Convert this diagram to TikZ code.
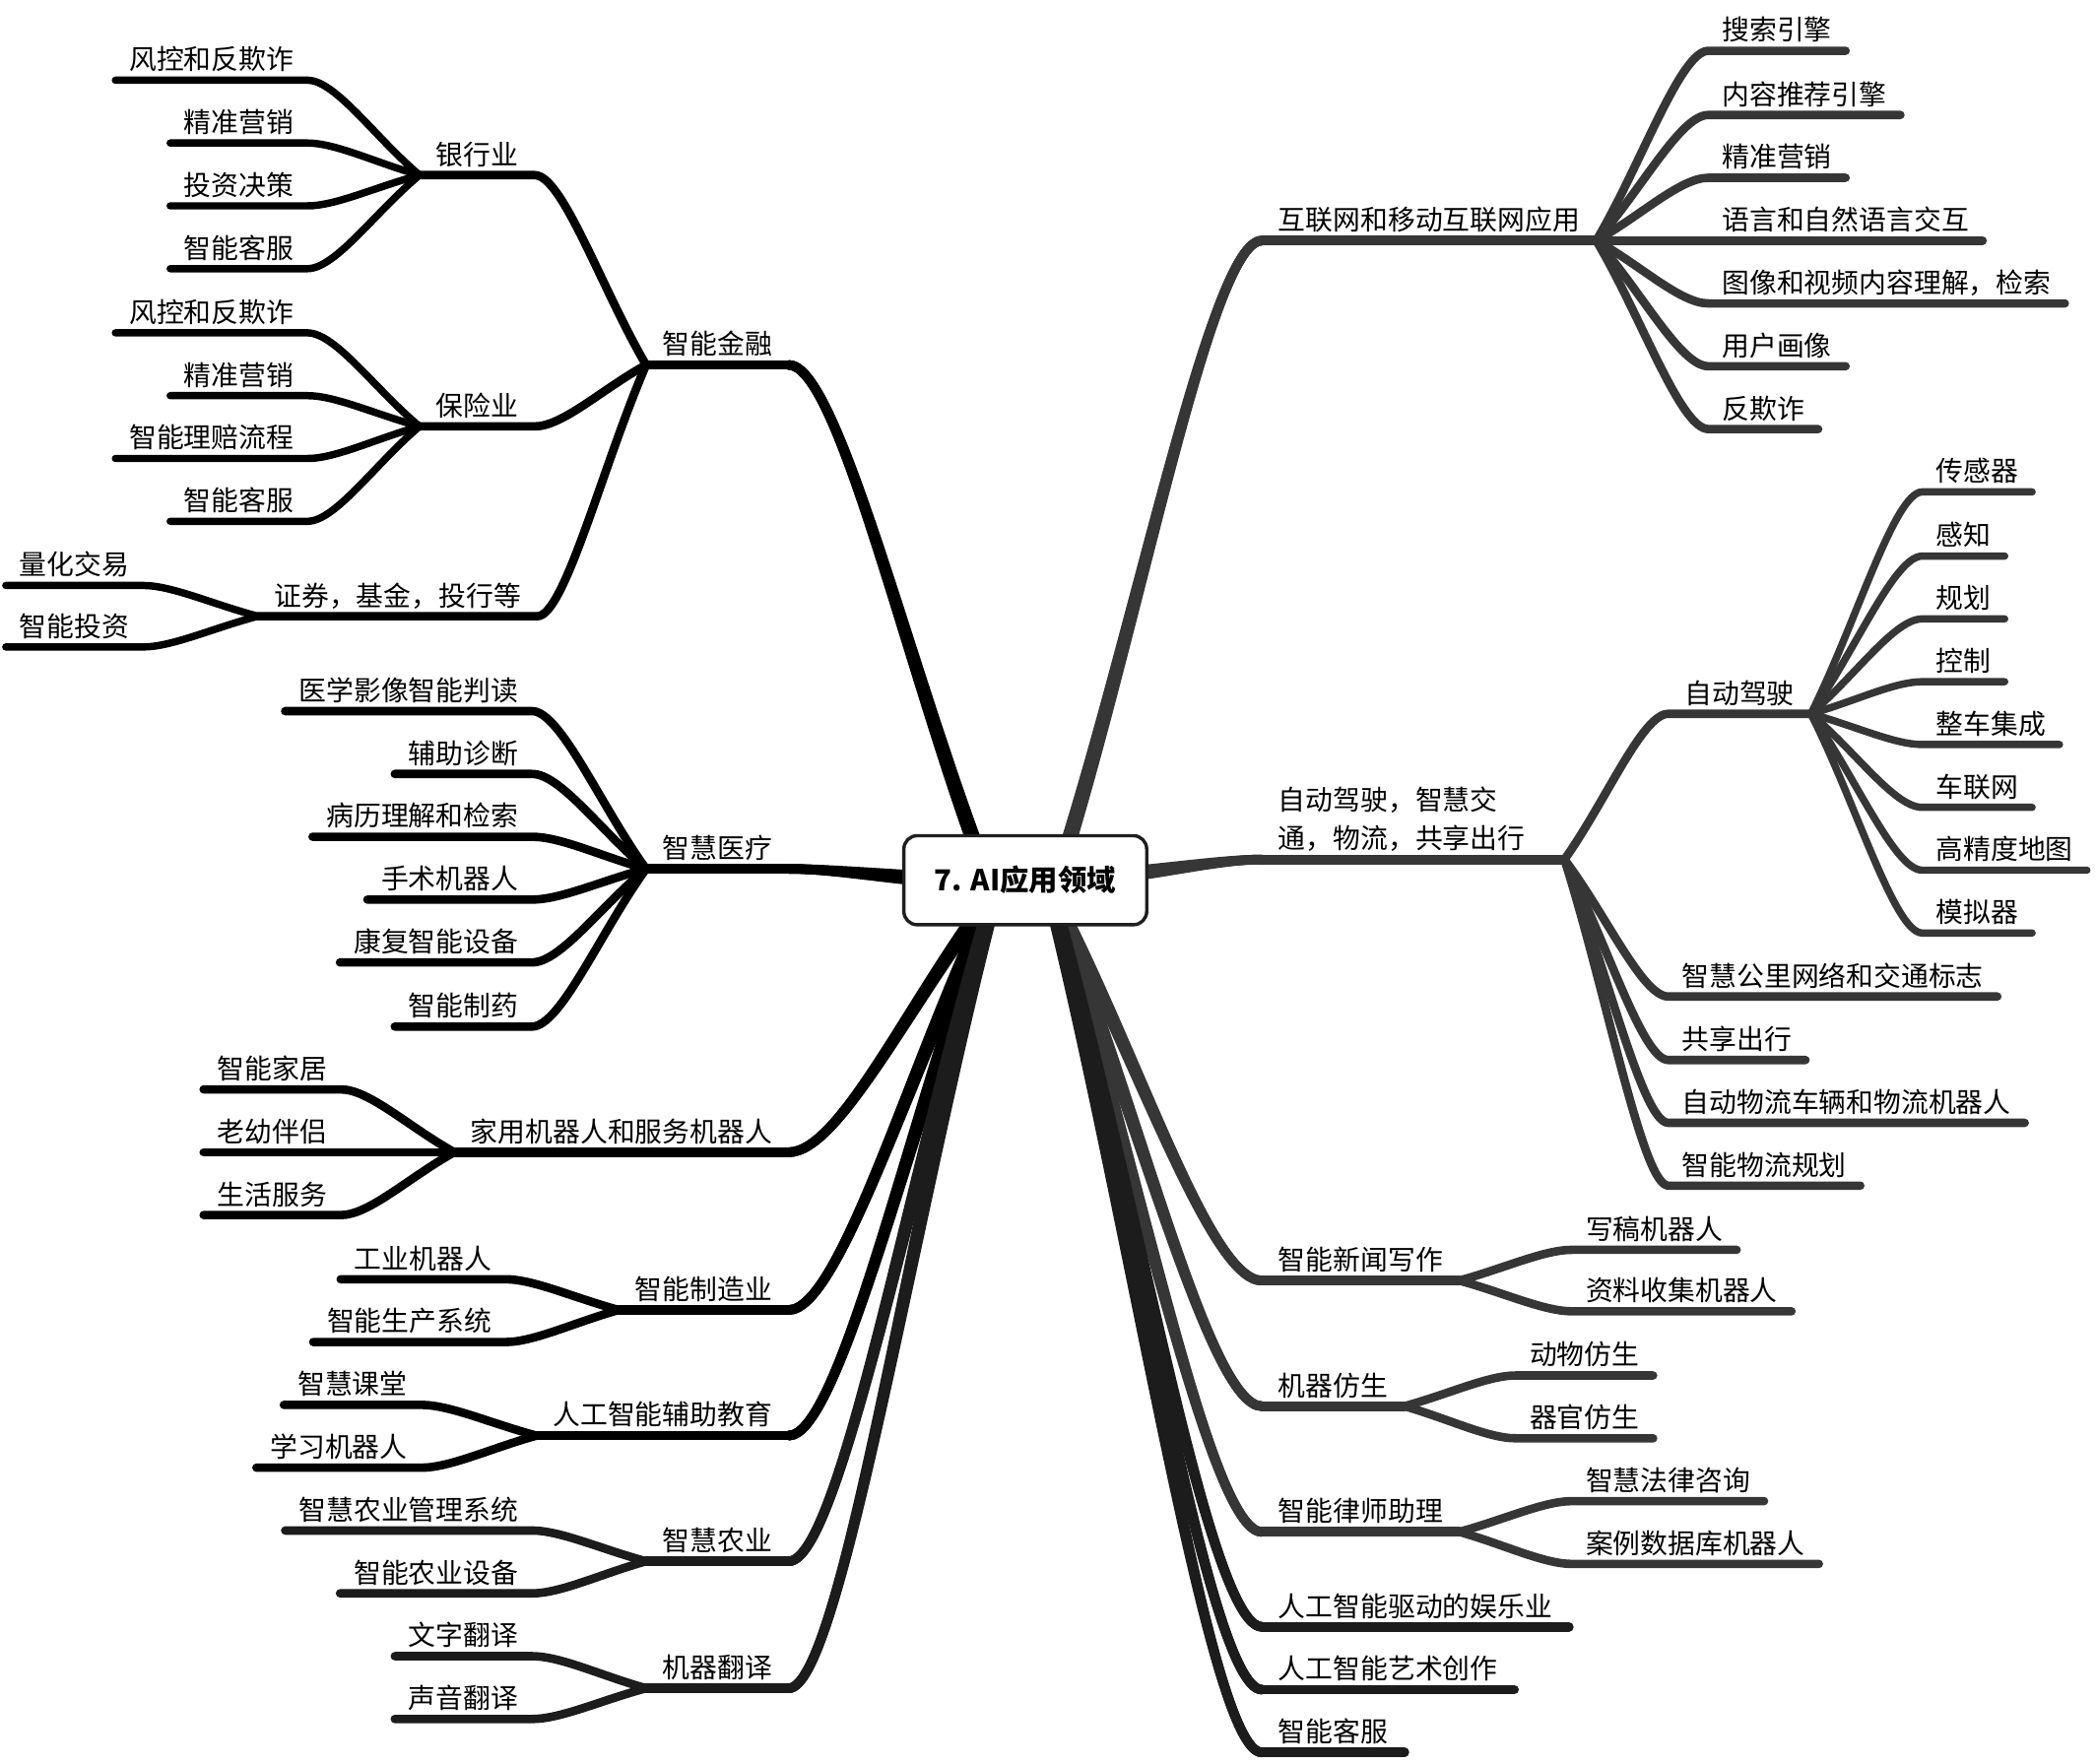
\documentclass[tikz,border=0pt]{standalone}
\usepackage{fontspec}
\setmainfont{Noto Sans CJK SC}
\usetikzlibrary{calc}
\pgfdeclarelayer{bgzero}
\pgfdeclarelayer{lines}
\pgfsetlayers{bgzero,lines,main}
\definecolor{cA}{HTML}{000000}
\definecolor{cB}{HTML}{1C1C1C}
\definecolor{cC}{HTML}{363636}
\tikzset{
  lblbase/.style={font=\fontsize{12.3}{17.4}\selectfont, inner xsep=6pt},
  lbl/.style={lblbase, text depth=0pt, text height=9pt, inner ysep=4.5pt},
  lbln/.style={lbl, inner xsep=7.2pt},
  toR/.style={anchor=south west},
  toL/.style={anchor=south east},
  wleaf/.style={line width=3.3pt, line cap=round, line join=round},
  wmid/.style={line width=3.8pt, line cap=round, line join=round},
  wtop/.style={line width=4.3pt, line cap=round, line join=round},
}
\newcommand\rcon[3]{\draw[#1] let \p1=(#2), \p2=(#3.south west) in (\p1) .. controls ({\x1+0.4*(\x2-\x1)},{\y1+0.4*(\y2-\y1)}) and ({\x2+0.25*(\x1-\x2)},\y2) .. (\p2) -- (#3.south east);}
\newcommand\lcon[3]{\draw[#1] let \p1=(#2), \p2=(#3.south east) in (\p1) .. controls ({\x1+0.4*(\x2-\x1)},{\y1+0.4*(\y2-\y1)}) and ({\x2+0.25*(\x1-\x2)},\y2) .. (\p2) -- (#3.south west);}
\newcommand\mainb[4]{\foreach \tp in {-1,0,1}{\draw[#1] let \p1=(#2), \p2=(#3), \p3=(#4) in ({\x1+(\tp)*\x3},{\y1+(\tp)*\y3}) .. controls ({\x1+(\tp)*\x3+0.4*(\x2-\x1-(\tp)*\x3)},{\y1+(\tp)*\y3+0.4*(\y2-\y1-(\tp)*\y3)}) and ({\x2+0.25*(\x1-\x2)},\y2) .. (\p2);}}
\begin{document}
\begin{tikzpicture}[x=0.6pt,y=-0.6pt]
\useasboundingbox (0,0) rectangle (1568,1319);
\begin{pgfonlayer}{bgzero}\fill[white] (0,0) rectangle (1568,1319);\end{pgfonlayer}

% ---------- centre ----------
\node[draw=black!88, line width=1.5pt, rounded corners=6pt, fill=white, minimum width=109pt, minimum height=40pt, inner sep=0pt, font=\bfseries\fontsize{13}{15}\selectfont] (c) at (767,658.5) {7. AI应用领域};
\coordinate (sFin) at (740,660);
\coordinate (sInet) at (790,660);
\coordinate (sMed) at (700,658);
\coordinate (sAuto) at (835,655);
\coordinate (sLL) at (745,665);
\coordinate (sLR) at (785,665);

% ---------- left level 1 ----------
\node[lbln,toL] (fin) at (590,273) {智能金融};
\node[lbln,toL] (med) at (590,650) {智慧医疗};
\node[lbln,toL] (home) at (590,862) {家用机器人和服务机器人};
\node[lbln,toL] (mfg) at (590,980) {智能制造业};
\node[lbln,toL] (edu) at (590,1074) {人工智能辅助教育};
\node[lbln,toL] (agr) at (590,1168) {智慧农业};
\node[lbln,toL] (mt) at (590,1263) {机器翻译};
% left level 2
\node[lbln,toL] (bank) at (400,131) {银行业};
\node[lbln,toL] (ins) at (400,319) {保险业};
\node[lbln,toL] (sec) at (402,461) {证券，基金，投行等};
% leaves
\node[lbl,toL] (b1) at (230,60) {风控和反欺诈};
\node[lbl,toL] (b2) at (230,107) {精准营销};
\node[lbl,toL] (b3) at (230,154) {投资决策};
\node[lbl,toL] (b4) at (230,201) {智能客服};
\node[lbl,toL] (i1) at (230,249) {风控和反欺诈};
\node[lbl,toL] (i2) at (230,296) {精准营销};
\node[lbl,toL] (i3) at (230,343) {智能理赔流程};
\node[lbl,toL] (i4) at (230,390) {智能客服};
\node[lbl,toL] (s1) at (107,438) {量化交易};
\node[lbl,toL] (s2) at (107,484) {智能投资};
\node[lbl,toL] (m1) at (398,532) {医学影像智能判读};
\node[lbl,toL] (m2) at (398,579) {辅助诊断};
\node[lbl,toL] (m3) at (398,626) {病历理解和检索};
\node[lbl,toL] (m4) at (398,673) {手术机器人};
\node[lbl,toL] (m5) at (398,720) {康复智能设备};
\node[lbl,toL] (m6) at (398,768) {智能制药};
\node[lbl,toL] (h1) at (255,815) {智能家居};
\node[lbl,toL] (h2) at (255,862) {老幼伴侣};
\node[lbl,toL] (h3) at (255,909) {生活服务};
\node[lbl,toL] (f1) at (378,957) {工业机器人};
\node[lbl,toL] (f2) at (378,1004) {智能生产系统};
\node[lbl,toL] (e1) at (315,1051) {智慧课堂};
\node[lbl,toL] (e2) at (315,1098) {学习机器人};
\node[lbl,toL] (a1) at (398,1145) {智慧农业管理系统};
\node[lbl,toL] (a2) at (398,1192) {智能农业设备};
\node[lbl,toL] (t1) at (398,1239) {文字翻译};
\node[lbl,toL] (t2) at (398,1286) {声音翻译};

% ---------- right level 1 ----------
\node[lbln,toR] (inet) at (944,180) {互联网和移动互联网应用};
\node[lblbase,toR,inner xsep=7.2pt,inner ysep=3.4pt,text width=121pt,align=left] (auto) at (944,643) {自动驾驶，智慧交\\通，物流，共享出行};
\node[lbln,toR] (news) at (944,958) {智能新闻写作};
\node[lbln,toR] (bio) at (944,1052) {机器仿生};
\node[lbln,toR] (law) at (944,1146) {智能律师助理};
\node[lbln,toR] (ent) at (944,1217) {人工智能驱动的娱乐业};
\node[lbln,toR] (art) at (944,1264) {人工智能艺术创作};
\node[lbln,toR] (cs) at (944,1311) {智能客服};
% right level 2 / leaves
\node[lbl,toR] (n1) at (1278,38) {搜索引擎};
\node[lbl,toR] (n2) at (1278,86) {内容推荐引擎};
\node[lbl,toR] (n3) at (1278,133) {精准营销};
\node[lbl,toR] (n4) at (1278,180) {语言和自然语言交互};
\node[lbl,toR] (n5) at (1278,227) {图像和视频内容理解，检索};
\node[lbl,toR] (n6) at (1278,274) {用户画像};
\node[lbl,toR] (n7) at (1278,321) {反欺诈};
\node[lbln,toR] (ad) at (1248,534) {自动驾驶};
\node[lbl,toR] (au2) at (1248,745.5) {智慧公里网络和交通标志};
\node[lbl,toR] (au3) at (1248,793) {共享出行};
\node[lbl,toR] (au4) at (1248,840) {自动物流车辆和物流机器人};
\node[lbl,toR] (au5) at (1248,887) {智能物流规划};
\node[lbl,toR] (ad1) at (1438,368) {传感器};
\node[lbl,toR] (ad2) at (1438,416) {感知};
\node[lbl,toR] (ad3) at (1438,463) {规划};
\node[lbl,toR] (ad4) at (1438,510) {控制};
\node[lbl,toR] (ad5) at (1438,557) {整车集成};
\node[lbl,toR] (ad6) at (1438,604) {车联网};
\node[lbl,toR] (ad7) at (1438,651) {高精度地图};
\node[lbl,toR] (ad8) at (1438,698) {模拟器};
\node[lbl,toR] (nw1) at (1176,935) {写稿机器人};
\node[lbl,toR] (nw2) at (1176,981) {资料收集机器人};
\node[lbl,toR] (bi1) at (1134,1029) {动物仿生};
\node[lbl,toR] (bi2) at (1134,1076) {器官仿生};
\node[lbl,toR] (lw1) at (1176,1123) {智慧法律咨询};
\node[lbl,toR] (lw2) at (1176,1170) {案例数据库机器人};

\begin{pgfonlayer}{lines}
% main branches
\mainb{wtop,cA}{sFin}{fin.south east}{2.5,0}
\draw[wtop,cA] (fin.south east) -- (fin.south west);
\mainb{wtop,cA}{sMed}{med.south east}{0,2.5}
\draw[wtop,cA] (med.south east) -- (med.south west);
\foreach \nd/\bcol in {home/cA,mfg/cA,edu/cA,agr/cB,mt/cB}{
  \mainb{wtop,\bcol}{sLL}{\nd.south east}{2.5,0}
  \draw[wtop,\bcol] (\nd.south east) -- (\nd.south west);}
\mainb{wtop,cC}{sInet}{inet.south west}{2.5,0}
\draw[wtop,cC] (inet.south west) -- (inet.south east);
\mainb{wtop,cC}{sAuto}{auto.south west}{0,2.5}
\draw[wtop,cC] (auto.south west) -- (auto.south east);
\foreach \nd/\bcol in {news/cC,bio/cC,law/cC,ent/cB,art/cB,cs/cB}{
  \mainb{wtop,\bcol}{sLR}{\nd.south west}{2.5,0}
  \draw[wtop,\bcol] (\nd.south west) -- (\nd.south east);}
% finance
\foreach \nd in {bank,ins,sec}{\lcon{wmid,cA}{fin.south west}{\nd}}
\foreach \nd in {b1,b2,b3,b4}{\lcon{wleaf,cA}{bank.south west}{\nd}}
\foreach \nd in {i1,i2,i3,i4}{\lcon{wleaf,cA}{ins.south west}{\nd}}
\foreach \nd in {s1,s2}{\lcon{wleaf,cA}{sec.south west}{\nd}}
% medical, home, manufacturing, education, agriculture, translation
\foreach \nd in {m1,m2,m3,m4,m5,m6}{\lcon{wmid,cA}{med.south west}{\nd}}
\foreach \nd in {h1,h2,h3}{\lcon{wmid,cA}{home.south west}{\nd}}
\foreach \nd in {f1,f2}{\lcon{wmid,cA}{mfg.south west}{\nd}}
\foreach \nd in {e1,e2}{\lcon{wmid,cA}{edu.south west}{\nd}}
\foreach \nd in {a1,a2}{\lcon{wmid,cB}{agr.south west}{\nd}}
\foreach \nd in {t1,t2}{\lcon{wmid,cB}{mt.south west}{\nd}}
% right side
\foreach \nd in {n1,n2,n3,n4,n5,n6,n7}{\rcon{wmid,cC}{inet.south east}{\nd}}
\foreach \nd in {ad,au2,au3,au4,au5}{\rcon{wmid,cC}{auto.south east}{\nd}}
\foreach \nd in {ad1,ad2,ad3,ad4,ad5,ad6,ad7,ad8}{\rcon{wleaf,cC}{ad.south east}{\nd}}
\foreach \nd in {nw1,nw2}{\rcon{wmid,cC}{news.south east}{\nd}}
\foreach \nd in {bi1,bi2}{\rcon{wmid,cC}{bio.south east}{\nd}}
\foreach \nd in {lw1,lw2}{\rcon{wmid,cC}{law.south east}{\nd}}
\end{pgfonlayer}
\end{tikzpicture}
\end{document}
